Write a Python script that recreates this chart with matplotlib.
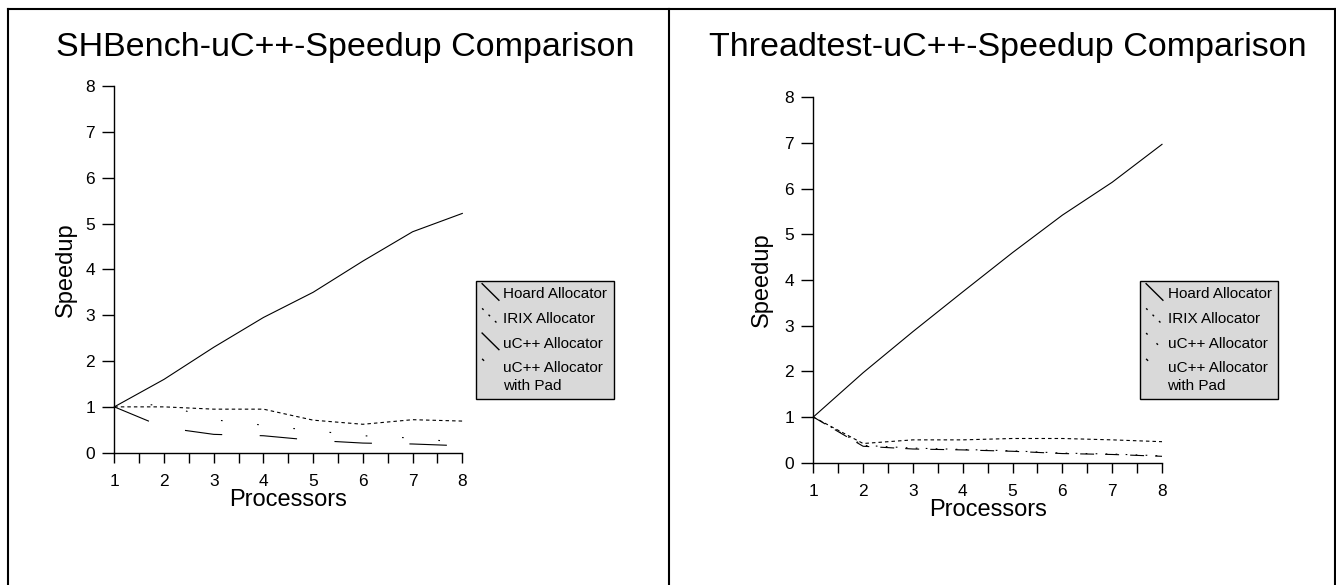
import matplotlib
matplotlib.use("Agg")
import matplotlib.pyplot as plt
from matplotlib.lines import Line2D
from matplotlib.legend_handler import HandlerBase

plt.rcParams['font.family'] = ['Liberation Sans', 'DejaVu Sans']
plt.rcParams['lines.scale_dashes'] = False

W, H = 1336, 585

# data
processors = [1, 2, 3, 4, 5, 6, 7, 8]
series_names = ['Hoard Allocator', 'IRIX Allocator', 'uC++ Allocator', 'uC++ Allocator\nwith Pad']

shbench_hoard = [1.0, 1.6, 2.3, 2.95, 3.5, 4.18, 4.82, 5.22]
shbench_irix = [1.0, 1.0, 0.95, 0.95, 0.71, 0.62, 0.72, 0.69]
shbench_ucpp = [1.0, 0.55, 0.40, 0.37, 0.27, 0.21, 0.19, 0.15]
shbench_pad = [1.0, 1.06, 0.72, 0.60, 0.48, 0.37, 0.32, 0.22]

thread_hoard = [1.0, 1.97, 2.87, 3.74, 4.6, 5.42, 6.14, 6.97]
thread_irix = [1.0, 0.42, 0.5, 0.5, 0.53, 0.53, 0.5, 0.46]
thread_ucpp = [1.0, 0.36, 0.3, 0.28, 0.25, 0.2, 0.18, 0.14]
thread_pad = [1.0, 0.38, 0.32, 0.29, 0.26, 0.21, 0.19, 0.15]


def px(x):
    return x / W


def py(y):
    return 1 - y / H


class DiagonalHandler(HandlerBase):
    # legend keys are drawn as short "\" strokes
    def create_artists(self, legend, orig_handle, xdescent, ydescent,
                       width, height, fontsize, trans):
        x0, y0 = -xdescent, -ydescent
        shift = getattr(orig_handle, 'legend_shift', 0.0) * fontsize
        line = Line2D([x0, x0 + width],
                      [y0 + height * 1.35 + shift, y0 - height * 0.2 + shift])
        self.update_prop(line, orig_handle, legend)
        line.set_transform(trans)
        return [line]


def draw_panel(ax, title, title_x, series, styles, legend_styles, legend_pos, ylab_x):
    for vals, ls in zip(series, styles):
        ax.plot(processors, vals, color='black', lw=0.8, linestyle=ls,
                dash_capstyle='butt', clip_on=False)
    ax.set_xlim(1, 8)
    ax.set_ylim(0, 8)
    ax.set_xticks(processors)
    ax.set_xticks([p + 0.5 for p in processors[:-1]], minor=True)
    ax.set_yticks(range(0, 9))
    for s in ['top', 'right']:
        ax.spines[s].set_visible(False)
    for s in ['left', 'bottom']:
        ax.spines[s].set_linewidth(1.0)
    ax.tick_params(axis='x', which='both', direction='out', length=7.2, width=1.0,
                   pad=8, labelsize=12.5)
    ax.tick_params(axis='y', direction='out', length=8.3, width=1.0,
                   pad=5.5, labelsize=12.5)
    ax.set_xlabel('Processors', fontsize=17)
    ax.xaxis.set_label_coords(0.5, -0.099)
    ax.xaxis.label.set_va('top')
    ax.set_ylabel('Speedup', fontsize=17)
    ax.yaxis.set_label_coords(ylab_x, 0.5)

    ax.figure.text(title_x, py(56), title, ha='center', va='baseline', fontsize=24.5)

    handles = []
    for i, ls in enumerate(legend_styles):
        h = Line2D([], [], color='black', lw=1.0, linestyle=ls, dash_capstyle='butt')
        h.legend_shift = 0.6 if i == 3 else 0.0
        handles.append(h)
    leg = ax.legend(handles, series_names, loc='upper left',
                    bbox_to_anchor=(px(legend_pos[0]), py(legend_pos[1])),
                    bbox_transform=ax.figure.transFigure, borderaxespad=0,
                    fontsize=11, fancybox=False, framealpha=1, edgecolor='black',
                    facecolor='#d9d9d9', handlelength=1.1, handletextpad=0.3,
                    borderpad=0.4, labelspacing=0.7,
                    handler_map={Line2D: DiagonalHandler()})
    for t in leg.get_texts():
        t.set_linespacing(1.32)
    leg.get_frame().set_linewidth(1.0)


fig = plt.figure(figsize=(W / 100, H / 100), dpi=100)

ax1 = fig.add_axes([px(114.3), py(452.7), px(462.3) - px(114.3), py(86) - py(452.7)])
ax2 = fig.add_axes([px(813.3), py(462.7), px(1162) - px(813.3), py(97.3) - py(462.7)])

left_styles = ['-', (0, (2.5, 2.2)), (0, (27, 27)), (0, (1.2, 25))]
right_styles = ['-', (0, (2.5, 2.2)), (0, (10, 8)), (0, (1.2, 6))]
left_leg = ['-', (0, (1.5, 5)), '-', (0, (2, 100))]
right_leg = ['-', (0, (1.5, 5)), (0, (1.5, 9)), (0, (2, 100))]

draw_panel(ax1, 'SHBench-uC++-Speedup Comparison', px(345),
           [shbench_hoard, shbench_irix, shbench_ucpp, shbench_pad],
           left_styles, left_leg, (476, 281), -0.107)
draw_panel(ax2, 'Threadtest-uC++-Speedup Comparison', px(1008),
           [thread_hoard, thread_irix, thread_ucpp, thread_pad],
           right_styles, right_leg, (1140, 281), -0.1156)

# panel borders
for (x1, y1, x2, y2) in [(8, 9, 1335, 9), (8, 9, 8, 585), (669, 9, 669, 585),
                         (1335, 9, 1335, 585)]:
    fig.add_artist(Line2D([px(x1), px(x2)], [py(y1), py(y2)], transform=fig.transFigure,
                          color='black', lw=1.5))

fig.savefig('out.png', dpi=100)
